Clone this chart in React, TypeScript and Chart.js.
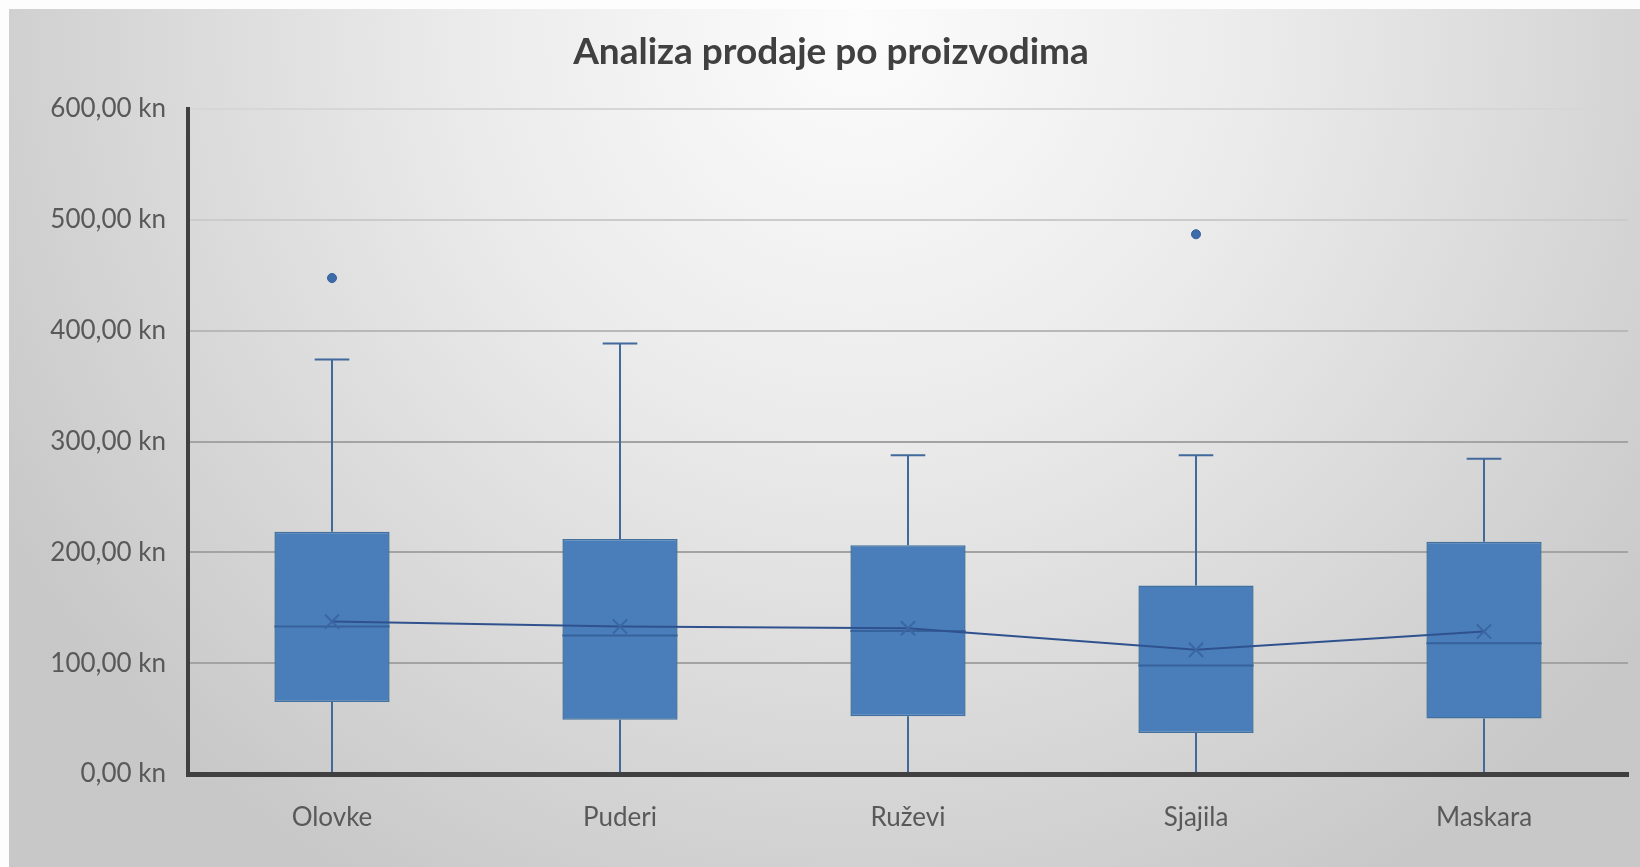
import React, { useEffect, useRef } from 'react';
import { Chart, registerables } from 'chart.js';

Chart.register(...registerables);

// Sales per product line (kn): five-number summary, mean and outliers
const categories = ['Olovke', 'Puderi', 'Ruževi', 'Sjajila', 'Maskara'];
const minValues = [0, 0, 0, 0, 0];
const q1Values = [65, 49, 52, 37, 50];
const medianValues = [133, 125, 129, 98, 118];
const q3Values = [218.5, 212, 206.5, 170, 209.5];
const maxValues = [374, 388.5, 287.5, 287.5, 284.5];
const meanValues = [137.5, 133, 131.5, 112, 128.5];
const outlierValues = [447.5, null, null, 487, null];
const yTicks = [0, 100, 200, 300, 400, 500, 600];
const chartTitle = 'Analiza prodaje po proizvodima';

const FONT = 'Lato, "Open Sans", sans-serif';
const BOX_FILL = '#4a7ebb';
const BOX_EDGE = '#41719c';
const WHISKER = '#41699b';
const MEDIAN = '#36619b';
const MEAN_LINE = '#2f528f';
const AXIS = '#404040';
const LABEL = '#595959';

const formatKn = (v: number) => v.toFixed(2).replace('.', ',') + ' kn';

// Background panel and the title text
const framePlugin = {
  id: 'frame',
  beforeDraw(chart: any) {
    const { ctx, width, height } = chart;
    ctx.save();
    ctx.fillStyle = '#fdfdfd';
    ctx.fillRect(0, 0, width, height);
    const g = ctx.createRadialGradient(860, 30, 0, 860, 30, 990);
    g.addColorStop(0, '#fcfcfc');
    g.addColorStop(0.4, '#ebebeb');
    g.addColorStop(1, '#c8c8c8');
    ctx.fillStyle = g;
    ctx.fillRect(9, 9, width - 9, height - 9);
    ctx.fillStyle = AXIS;
    ctx.font = `bold 37px ${FONT}`;
    ctx.textAlign = 'center';
    ctx.textBaseline = 'middle';
    ctx.fillText(chartTitle, 831, 52);
    ctx.restore();
  },
};

// Whiskers, caps and median lines drawn on the box dataset
const boxPlugin = {
  id: 'boxParts',
  afterDatasetDraw(chart: any, args: any) {
    if (args.index !== 0) return;
    const y = chart.scales.y;
    const ctx = chart.ctx;
    ctx.save();
    args.meta.data.forEach((bar: any, i: number) => {
      const x = bar.x;
      const half = bar.width / 2;
      const cap = bar.width * 0.15;
      const yMin = y.getPixelForValue(minValues[i]);
      const yQ1 = y.getPixelForValue(q1Values[i]);
      const yMed = y.getPixelForValue(medianValues[i]);
      const yQ3 = y.getPixelForValue(q3Values[i]);
      const yMax = y.getPixelForValue(maxValues[i]);
      ctx.strokeStyle = WHISKER;
      ctx.lineWidth = 2;
      ctx.beginPath();
      ctx.moveTo(x, yQ3);
      ctx.lineTo(x, yMax);
      ctx.moveTo(x - cap, yMax);
      ctx.lineTo(x + cap, yMax);
      ctx.moveTo(x, yQ1);
      ctx.lineTo(x, yMin);
      ctx.moveTo(x - cap, yMin);
      ctx.lineTo(x + cap, yMin);
      ctx.stroke();
      ctx.strokeStyle = MEDIAN;
      ctx.beginPath();
      ctx.moveTo(x - half, yMed);
      ctx.lineTo(x + half, yMed);
      ctx.stroke();
    });
    ctx.restore();
  },
};

export default function App() {
  const canvasRef = useRef<HTMLCanvasElement>(null);

  useEffect(() => {
    const canvas = canvasRef.current;
    if (!canvas) return;
    const chart = new Chart(canvas, {
      type: 'bar',
      data: {
        labels: categories,
        datasets: [
          {
            type: 'bar',
            data: categories.map((_, i) => [q1Values[i], q3Values[i]]) as any,
            backgroundColor: BOX_FILL,
            borderColor: BOX_EDGE,
            borderWidth: 1.5,
            borderSkipped: false,
            barPercentage: 0.4,
            categoryPercentage: 1,
            order: 3,
          },
          {
            type: 'line',
            data: meanValues,
            borderColor: MEAN_LINE,
            borderWidth: 2,
            pointStyle: 'crossRot',
            pointRadius: 10,
            pointBorderColor: '#3a66a3',
            pointBorderWidth: 2,
            pointBackgroundColor: 'transparent',
            order: 2,
          },
          {
            type: 'line',
            data: outlierValues as any,
            showLine: false,
            pointStyle: 'circle',
            pointRadius: 4.5,
            pointBackgroundColor: '#3d6cab',
            pointBorderColor: '#355f99',
            pointBorderWidth: 1,
            order: 1,
          },
        ],
      },
      options: {
        responsive: false,
        animation: false,
        events: [],
        layout: { padding: { top: 109, left: 0, right: 7, bottom: 0 } },
        plugins: {
          legend: { display: false },
          tooltip: { enabled: false },
          title: { display: false },
        },
        scales: {
          x: {
            offset: true,
            z: 1,
            grid: { display: false, drawTicks: false },
            border: { display: true, color: AXIS, width: 5, z: 1 },
            ticks: {
              color: LABEL,
              font: { family: FONT, size: 26 },
              padding: 28,
            },
            afterFit(scale: any) {
              scale.height = 93;
            },
          },
          y: {
            min: 0,
            max: 600,
            afterBuildTicks(scale: any) {
              scale.ticks = yTicks.map((v) => ({ value: v }));
            },
            grid: {
              drawTicks: false,
              lineWidth: 2,
              color: (c: any) => {
                const v = c.tick ? c.tick.value : 0;
                if (v >= 600) return '#d6d6d6';
                if (v >= 500) return '#cbcbcb';
                if (v >= 400) return '#b8b8b8';
                return '#a3a3a3';
              },
            },
            border: { display: true, color: AXIS, width: 4 },
            ticks: {
              color: LABEL,
              font: { family: FONT, size: 26 },
              padding: 22,
              callback: (v: any) => formatKn(Number(v)),
            },
            afterFit(scale: any) {
              scale.width = 188;
            },
          },
        },
      },
      plugins: [framePlugin, boxPlugin],
    });
    return () => chart.destroy();
  }, []);

  return (
    <div style={{ position: 'absolute', left: 0, top: 0, width: 1640, height: 867 }}>
      <canvas ref={canvasRef} width={1640} height={867} />
    </div>
  );
}
